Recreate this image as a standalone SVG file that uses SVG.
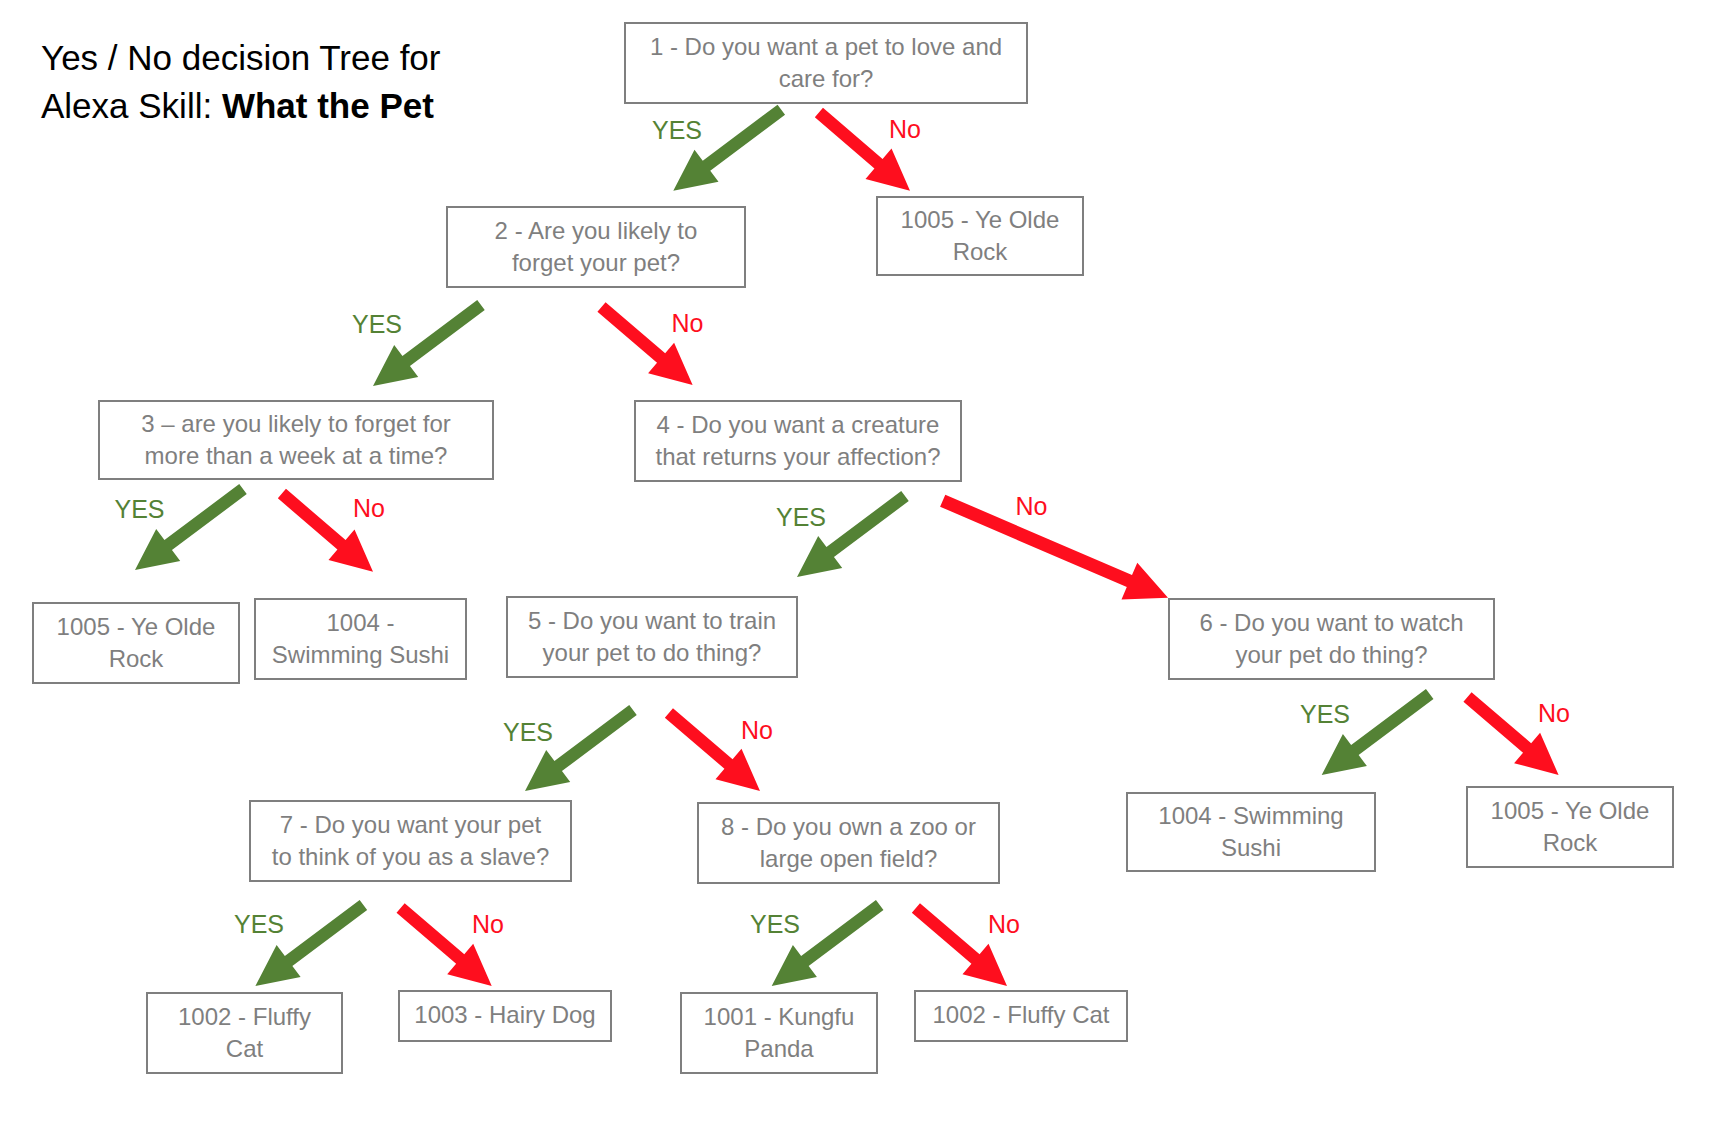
<svg xmlns="http://www.w3.org/2000/svg" xmlns:xlink="http://www.w3.org/1999/xlink" width="1712" height="1134" viewBox="0 0 1712 1134">
<style>
.box{fill:#fff;stroke:#7f7f7f;stroke-width:2}
.bt{font-family:"Liberation Sans",Arial,sans-serif;font-size:24px;fill:#7f7f7f;text-anchor:middle}
.title{font-family:"Liberation Sans",Arial,sans-serif;font-size:35px;fill:#000}
.yl{font-family:"Liberation Sans",Arial,sans-serif;font-size:25px;fill:#548235;text-anchor:middle}
.nl{font-family:"Liberation Sans",Arial,sans-serif;font-size:25px;fill:#fe0e1e;text-anchor:middle}
.ya{fill:#548235}
.na{fill:#fe0e1e}
</style>
<defs>
<polygon id="yesArrow" class="ya" points="0,0 45.2,-8.9 36.95,-19.9 111.75,-76 104.25,-86 29.45,-29.9 21.2,-40.9"/>
<polygon id="noArrow" class="na" points="0,0 -18.5,-42.2 -27.43,-31.74 -87.03,-82.84 -95.17,-73.36 -35.57,-22.26 -44.5,-11.8"/>
</defs>
<rect width="1712" height="1134" fill="#fff"/>
<g id="title">
<text class="title" x="41" y="70">Yes / No decision Tree for</text>
<text class="title" x="41" y="118">Alexa Skill: <tspan font-weight="bold">What the Pet</tspan></text>
</g>
<g id="connectors">
<use xlink:href="#yesArrow" href="#yesArrow" x="673.3" y="190.7"/>
<use xlink:href="#noArrow" href="#noArrow" x="910" y="190.7"/>
<use xlink:href="#yesArrow" href="#yesArrow" x="373" y="386"/>
<use xlink:href="#noArrow" href="#noArrow" x="692.6" y="385"/>
<use xlink:href="#yesArrow" href="#yesArrow" x="135" y="570"/>
<use xlink:href="#noArrow" href="#noArrow" x="373" y="571.7"/>
<use xlink:href="#yesArrow" href="#yesArrow" x="797" y="577"/>
<polygon class="na" points="1168,597.7 1137.3,562.7 1132,575.1 945.3,494.7 940.1,506.7 1126.8,587.1 1121.5,599.5"/>
<use xlink:href="#yesArrow" href="#yesArrow" x="525" y="791"/>
<use xlink:href="#noArrow" href="#noArrow" x="760" y="791"/>
<use xlink:href="#yesArrow" href="#yesArrow" x="1321.7" y="775"/>
<use xlink:href="#noArrow" href="#noArrow" x="1558.6" y="775"/>
<use xlink:href="#yesArrow" href="#yesArrow" x="255.4" y="986"/>
<use xlink:href="#noArrow" href="#noArrow" x="491.7" y="986"/>
<use xlink:href="#yesArrow" href="#yesArrow" x="771.7" y="986"/>
<use xlink:href="#noArrow" href="#noArrow" x="1007" y="986"/>
<text class="yl" x="677" y="139">YES</text>
<text class="nl" x="905" y="138">No</text>
<text class="yl" x="377" y="333">YES</text>
<text class="nl" x="687.5" y="332">No</text>
<text class="yl" x="139.5" y="518">YES</text>
<text class="nl" x="369" y="517">No</text>
<text class="yl" x="801" y="526">YES</text>
<text class="nl" x="1031.5" y="515">No</text>
<text class="yl" x="528" y="741">YES</text>
<text class="nl" x="757" y="739">No</text>
<text class="yl" x="1325" y="723">YES</text>
<text class="nl" x="1554" y="722">No</text>
<text class="yl" x="259" y="933">YES</text>
<text class="nl" x="488" y="933">No</text>
<text class="yl" x="775" y="933">YES</text>
<text class="nl" x="1004" y="933">No</text>
</g>
<g id="q1"><rect class="box" x="625" y="23" width="402" height="80"/><text class="bt" x="826" y="55">1 - Do you want a pet to love and</text><text class="bt" x="826" y="87">care for?</text></g>
<g id="q2"><rect class="box" x="447" y="207" width="298" height="80"/><text class="bt" x="596" y="239">2 - Are you likely to</text><text class="bt" x="596" y="271">forget your pet?</text></g>
<g id="r1005a"><rect class="box" x="877" y="197" width="206" height="78"/><text class="bt" x="980" y="228">1005 - Ye Olde</text><text class="bt" x="980" y="260">Rock</text></g>
<g id="q3"><rect class="box" x="99" y="401" width="394" height="78"/><text class="bt" x="296" y="432">3 – are you likely to forget for</text><text class="bt" x="296" y="464">more than a week at a time?</text></g>
<g id="q4"><rect class="box" x="635" y="401" width="326" height="80"/><text class="bt" x="798" y="433">4 - Do you want a creature</text><text class="bt" x="798" y="465">that returns your affection?</text></g>
<g id="r1005b"><rect class="box" x="33" y="603" width="206" height="80"/><text class="bt" x="136" y="635">1005 - Ye Olde</text><text class="bt" x="136" y="667">Rock</text></g>
<g id="r1004a"><rect class="box" x="255" y="599" width="211" height="80"/><text class="bt" x="360.5" y="631">1004 -</text><text class="bt" x="360.5" y="663">Swimming Sushi</text></g>
<g id="q5"><rect class="box" x="507" y="597" width="290" height="80"/><text class="bt" x="652" y="629">5 - Do you want to train</text><text class="bt" x="652" y="661">your pet to do thing?</text></g>
<g id="q6"><rect class="box" x="1169" y="599" width="325" height="80"/><text class="bt" x="1331.5" y="631">6 - Do you want to watch</text><text class="bt" x="1331.5" y="663">your pet do thing?</text></g>
<g id="q7"><rect class="box" x="250" y="801" width="321" height="80"/><text class="bt" x="410.5" y="833">7 - Do you want your pet</text><text class="bt" x="410.5" y="865">to think of you as a slave?</text></g>
<g id="q8"><rect class="box" x="698" y="803" width="301" height="80"/><text class="bt" x="848.5" y="835">8 - Do you own a zoo or</text><text class="bt" x="848.5" y="867">large open field?</text></g>
<g id="r1004b"><rect class="box" x="1127" y="793" width="248" height="78"/><text class="bt" x="1251" y="824">1004 - Swimming</text><text class="bt" x="1251" y="856">Sushi</text></g>
<g id="r1005c"><rect class="box" x="1467" y="787" width="206" height="80"/><text class="bt" x="1570" y="819">1005 - Ye Olde</text><text class="bt" x="1570" y="851">Rock</text></g>
<g id="r1002a"><rect class="box" x="147" y="993" width="195" height="80"/><text class="bt" x="244.5" y="1025">1002 - Fluffy</text><text class="bt" x="244.5" y="1057">Cat</text></g>
<g id="r1003"><rect class="box" x="399" y="991" width="212" height="50"/><text class="bt" x="505" y="1023">1003 - Hairy Dog</text></g>
<g id="r1001"><rect class="box" x="681" y="993" width="196" height="80"/><text class="bt" x="779" y="1025">1001 - Kungfu</text><text class="bt" x="779" y="1057">Panda</text></g>
<g id="r1002b"><rect class="box" x="915" y="991" width="212" height="50"/><text class="bt" x="1021" y="1023">1002 - Fluffy Cat</text></g>
</svg>
